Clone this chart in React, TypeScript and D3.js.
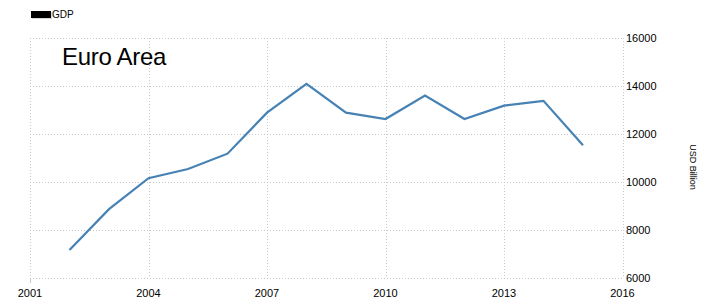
import React from "react";
import * as d3 from "d3";

const years = [2002, 2003, 2004, 2005, 2006, 2007, 2008, 2009, 2010, 2011, 2012, 2013, 2014, 2015];
const gdp = [7170, 8870, 10160, 10540, 11180, 12890, 14090, 12890, 12625, 13600, 12625, 13180, 13380, 11530];
const xTicks = [2001, 2004, 2007, 2010, 2013, 2016];
const yTicks = [6000, 8000, 10000, 12000, 14000, 16000];

const W = 711;
const H = 305;
const FONT = "Arial, 'Liberation Sans', sans-serif";

export default function App() {
  const x = d3.scaleLinear().domain([2001, 2016]).range([30, 622.5]);
  const y = d3.scaleLinear().domain([6000, 16000]).range([278, 38]);
  const data = years.map((yr, i) => [yr, gdp[i]] as [number, number]);
  const line = d3
    .line<[number, number]>()
    .x((d) => x(d[0]))
    .y((d) => y(d[1]));

  return (
    <svg
      width={W}
      height={H}
      style={{ position: "absolute", left: 0, top: 0, display: "block", background: "#fff" }}
    >
      {/* legend */}
      <rect x={32} y={12} width={20} height={7} fill="#bbb" opacity={0.6} />
      <rect x={31} y={11} width={20} height={7} fill="#000" />
      <text x={52} y={18} fontSize={10} fontFamily={FONT} fill="#000">
        GDP
      </text>

      {/* horizontal grid */}
      {yTicks.map((t) => (
        <line
          key={"h" + t}
          x1={30}
          x2={622.5}
          y1={Math.round(y(t)) + 0.5}
          y2={Math.round(y(t)) + 0.5}
          stroke="#c8c8c8"
          strokeWidth={1}
          strokeDasharray="1,2"
        />
      ))}
      {/* vertical grid */}
      {xTicks.map((t) => (
        <line
          key={"v" + t}
          x1={Math.round(x(t)) + 0.5}
          x2={Math.round(x(t)) + 0.5}
          y1={38}
          y2={278}
          stroke="#c8c8c8"
          strokeWidth={1}
          strokeDasharray="1,2"
        />
      ))}
      <line x1={30.5} x2={30.5} y1={278} y2={283} stroke="#c8c8c8" strokeWidth={1} />

      {/* title */}
      <text x={62} y={65} fontSize={24} fontFamily={FONT} fill="#000" letterSpacing={-0.3}>
        Euro Area
      </text>

      {/* series */}
      <path d={line(data) || ""} fill="none" stroke="#4682b4" strokeWidth={2.2} strokeLinejoin="miter" />

      {/* y labels */}
      {yTicks.map((t) => (
        <text
          key={"yl" + t}
          x={626}
          y={y(t) + 4}
          fontSize={11}
          fontFamily={FONT}
          fill="#000"
        >
          {t}
        </text>
      ))}
      {/* x labels */}
      {xTicks.map((t) => (
        <text
          key={"xl" + t}
          x={x(t)}
          y={297}
          fontSize={11}
          fontFamily={FONT}
          fill="#000"
          textAnchor="middle"
        >
          {t}
        </text>
      ))}

      {/* axis title */}
      <text
        transform={`translate(690, 167) rotate(90)`}
        fontSize={9}
        fontFamily={FONT}
        fill="#000"
        textAnchor="middle"
      >
        USD Billion
      </text>
    </svg>
  );
}
